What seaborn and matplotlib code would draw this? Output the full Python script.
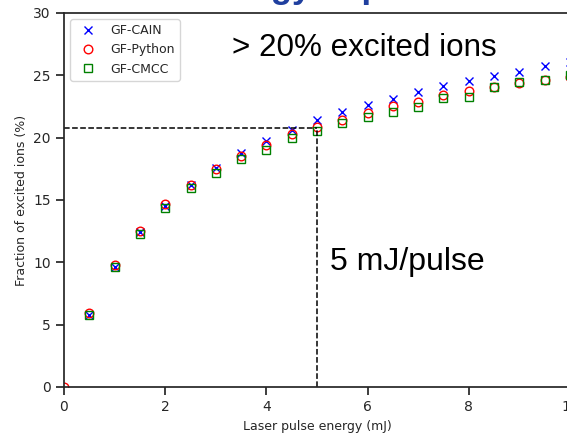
import numpy as np
import pandas as pd
import matplotlib
matplotlib.use("Agg")
import matplotlib.pyplot as plt
import seaborn as sns

# ---- data ----
energy = [0.5, 1.0, 1.5, 2.0, 2.5, 3.0, 3.5, 4.0, 4.5, 5.0,
          5.5, 6.0, 6.5, 7.0, 7.5, 8.0, 8.5, 9.0, 9.5, 10.0]
cain = [5.8, 9.65, 12.4, 14.5, 16.2, 17.6, 18.8, 19.75, 20.65, 21.4,
        22.05, 22.6, 23.1, 23.65, 24.15, 24.55, 24.95, 25.25, 25.75, 26.05]
python_energy = [0.0] + energy
python_vals = [0.0, 5.95, 9.8, 12.55, 14.65, 16.2, 17.5, 18.5, 19.45, 20.3, 20.85,
               21.4, 21.95, 22.5, 22.85, 23.4, 23.75, 24.1, 24.35, 24.6, 24.9]
cmcc = [5.8, 9.6, 12.3, 14.35, 15.95, 17.2, 18.25, 19.05, 19.95, 20.55,
        21.15, 21.65, 22.05, 22.45, 23.2, 23.3, 24.1, 24.5, 24.6, 25.0]

threshold_energy = 5.0
threshold_fraction = 20.77

xticks = [0, 2, 4, 6, 8, 10]
yticks = [0, 5, 10, 15, 20, 25, 30]

sns.set_theme(style="ticks")
plt.rcParams.update({
    "font.family": ["DejaVu Sans"],
    "font.size": 10,
    "xtick.labelsize": 10,
    "ytick.labelsize": 10,
    "axes.labelsize": 9,
    "legend.fontsize": 9,
})

W, H = 567, 433
fig = plt.figure(figsize=(W / 100, H / 100), dpi=100)
ax = fig.add_axes([64 / W, 46 / H, 506 / W, 374 / H])

df_cain = pd.DataFrame({"x": energy, "y": cain})
df_py = pd.DataFrame({"x": python_energy, "y": python_vals})
df_cmcc = pd.DataFrame({"x": energy, "y": cmcc})

ms = 6.2
sns.lineplot(data=df_cain, x="x", y="y", ax=ax, linestyle="none", marker="x",
             markersize=ms, markeredgecolor="#0000ff", markeredgewidth=1.0,
             color="#0000ff", label="GF-CAIN")
sns.lineplot(data=df_py, x="x", y="y", ax=ax, linestyle="none", marker="o",
             markersize=ms, markerfacecolor="none", markeredgecolor="#ff0000",
             markeredgewidth=1.0, color="#ff0000", label="GF-Python")
sns.lineplot(data=df_cmcc, x="x", y="y", ax=ax, linestyle="none", marker="s",
             markersize=ms, markerfacecolor="none", markeredgecolor="#008000",
             markeredgewidth=1.0, color="#008000", label="GF-CMCC")

ax.hlines(threshold_fraction, 0, threshold_energy, colors="black",
          linestyles="--", linewidth=1.1)
ax.vlines(threshold_energy, 0, threshold_fraction, colors="black",
          linestyles="--", linewidth=1.1)

ax.set_xlim(0, 10)
ax.set_ylim(0, 30)
ax.set_xticks(xticks)
ax.set_yticks(yticks)
ax.set_xlabel("Laser pulse energy (mJ)")
ax.set_ylabel("Fraction of excited ions (%)")

leg = ax.legend(loc="upper left", frameon=True)

fig.text(232 / W, 1 - 56 / H, "> 20% excited ions",
         family="Liberation Sans", fontsize=22.6, color="black",
         ha="left", va="baseline")
fig.text(330 / W, 1 - 270 / H, "5 mJ/pulse",
         family="Liberation Sans", fontsize=23, color="black",
         ha="left", va="baseline")

fig.text(0.545, 1.0 + 2 / H, "Laser energy dependence", ha="center",
         va="baseline", family="Liberation Sans", fontsize=25,
         fontweight="bold", color="#1f3f9f")

fig.savefig("out.png", dpi=100)
